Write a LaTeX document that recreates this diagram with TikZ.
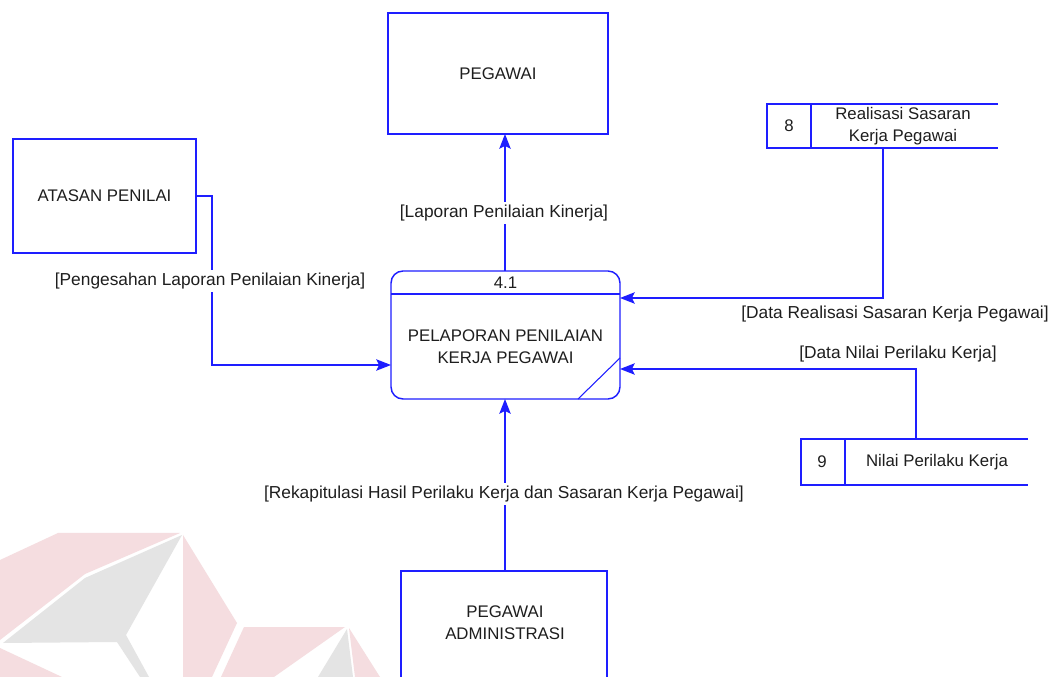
\documentclass[tikz,border=0pt]{standalone}
\usepackage{fontspec}
\setmainfont{Liberation Sans}
\usetikzlibrary{arrows.meta}

\definecolor{dfdblue}{RGB}{30,30,255}
\definecolor{inktext}{RGB}{30,30,30}
\definecolor{markpink}{RGB}{245,221,224}
\definecolor{markgrey}{RGB}{228,228,228}

\tikzset{
  base/.style={outer sep=0pt, inner sep=0pt, text=inktext,
    font=\fontsize{12.6}{16.5}\selectfont, align=center},
  entity/.style={base, draw=dfdblue, line width=1.1pt},
  process/.style={base, draw=dfdblue, line width=1.1pt, rounded corners=9pt},
  edge/.style={draw=dfdblue, line width=1.1pt},
  flow/.style={edge, -{Stealth[length=11pt,width=8.5pt,inset=2pt]}},
  labeltext/.style={base, font=\fontsize{13}{16.5}\selectfont},
  flowlabel/.style={labeltext, fill=white, inner xsep=1pt, inner ysep=2pt},
}

\begin{document}
\begin{tikzpicture}[x=0.75pt,y=-0.75pt]
\clip (0,0) rectangle (1051,677);
\fill[white] (0,0) rectangle (1051,677);

% faint logo mark in the lower left corner
\fill[markpink] (58,533) -- (180,533) -- (85,574) -- (0,640) -- (0,560) -- cycle;
\fill[markgrey] (182,535) -- (85,578) -- (3,643) -- (117,642) -- (140,677) -- (149,677) -- (126,635) -- cycle;
\fill[markpink] (0,648) -- (62,677) -- (0,677) -- cycle;
\fill[markpink] (183,535) -- (237,623) -- (212,677) -- (183,677) -- cycle;
\fill[markpink] (244,627) -- (345,627) -- (274,677) -- (221,677) -- cycle;
\fill[markgrey] (347,629) -- (353,677) -- (318,677) -- cycle;
\fill[markpink] (349,628) -- (380,677) -- (355,677) -- cycle;

% external entities
\node[entity, minimum width=165pt, minimum height=90.75pt] (peg) at (498,73.5) {PEGAWAI};
\node[entity, minimum width=137.25pt, minimum height=85.5pt] (atasan) at (104.5,196) {ATASAN PENILAI};
\node[entity, minimum width=154.5pt, minimum height=96pt, anchor=north] (adm) at (504,571) {};
\node[base] (admtext) at (505,623) {PEGAWAI\\ADMINISTRASI};

% process 4.1
\node[process, minimum width=171.75pt, minimum height=96pt] (proc) at (505.5,335) {};
\draw[edge] (proc.west |- 0,294) -- (proc.east |- 0,294);
\draw[edge, line width=0.8pt] ([xshift=-31.5pt]proc.south east) -- ([yshift=30.75pt]proc.south east);
\node[base] (procid) at (505.5,282.5) {4.1};
\node[base] (procname) at (505.5,347) {PELAPORAN PENILAIAN\\KERJA PEGAWAI};

% data stores (open on the right)
\node[base, minimum width=173.25pt, minimum height=33pt] (s8) at (882.5,126) {};
\draw[edge] (s8.north east) -- (s8.north west) -- (s8.south west) -- (s8.south east);
\draw[edge] ([xshift=33pt]s8.north west) -- ([xshift=33pt]s8.south west);
\node[base] (s8id) at (789,126) {8};
\node[base] (s8name) at (903,126) {Realisasi Sasaran\\Kerja Pegawai};

\node[base, minimum width=170.25pt, minimum height=34.5pt] (s9) at (914.5,462) {};
\draw[edge] (s9.north east) -- (s9.north west) -- (s9.south west) -- (s9.south east);
\draw[edge] ([xshift=33pt]s9.north west) -- ([xshift=33pt]s9.south west);
\node[base] (s9id) at (822,462) {9};
\node[base] (s9name) at (937,462) {Nilai Perilaku Kerja};

% data flows
\draw[flow] (proc.north -| 505,0) -- (peg.south -| 505,0);
\node[flowlabel] (l1) at (504,213) {[Laporan Penilaian Kinerja]};

\draw[flow] (atasan.east) -- ++(16,0) |- (proc.west |- 0,365);
\node[flowlabel] (l2) at (210,281) {[Pengesahan Laporan Penilaian Kinerja]};

\draw[flow] (s8.south -| 883,0) |- (proc.east |- 0,298);
\node[labeltext] (l3) at (895,314) {[Data Realisasi Sasaran Kerja Pegawai]};

\draw[flow] (s9.north -| 916,0) |- (proc.east |- 0,369);
\node[labeltext] (l4) at (898,354) {[Data Nilai Perilaku Kerja]};

\draw[flow] (adm.north -| 505,0) -- (proc.south -| 505,0);
\node[flowlabel] (l5) at (504,494) {[Rekapitulasi Hasil Perilaku Kerja dan Sasaran Kerja Pegawai]};
\end{tikzpicture}
\end{document}
